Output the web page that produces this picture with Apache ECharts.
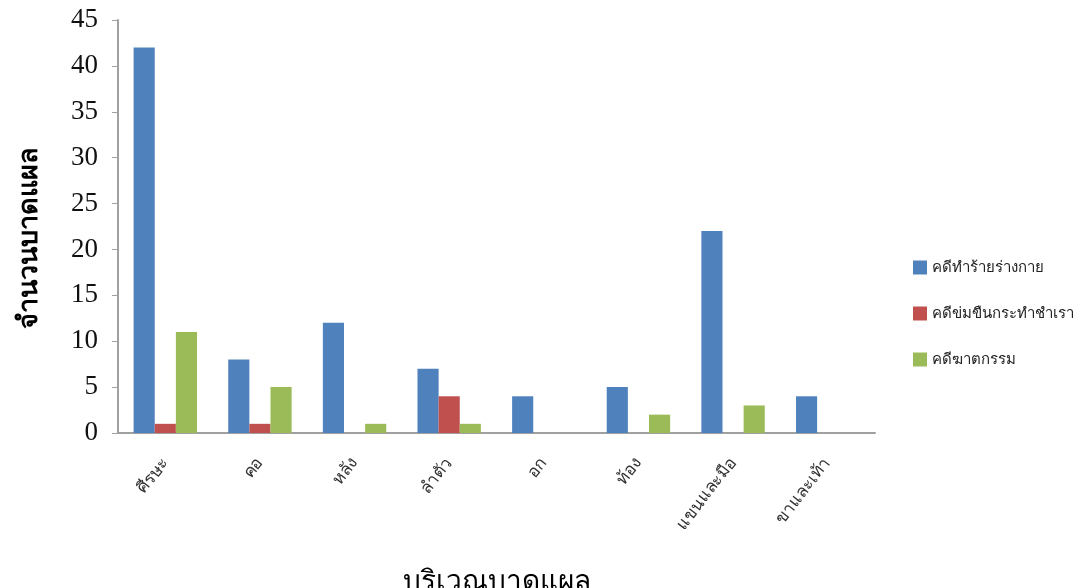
<!DOCTYPE html>
<html>
<head>
<meta charset="utf-8">
<script src="https://cdn.jsdelivr.net/npm/echarts@6/dist/echarts.min.js"></script>
<style>
  html, body { margin: 0; padding: 0; background: #fff; }
  #chart { width: 1085px; height: 588px; }
</style>
</head>
<body>
<div id="chart"></div>
<script>
  // บริเวณบาดแผล
  var categories = ['ศีรษะ', 'คอ', 'หลัง', 'ลำตัว', 'อก', 'ท้อง', 'แขนและมือ', 'ขาและเท้า'];
  var seriesNames = ['คดีทำร้ายร่างกาย', 'คดีข่มขืนกระทำชำเรา', 'คดีฆาตกรรม'];
  var assault = [42, 8, 12, 7, 4, 5, 22, 4];
  var rape = [1, 1, 0, 4, 0, 0, 0, 0];
  var murder = [11, 5, 1, 1, 0, 2, 3, 0];
  var colors = ['#4f81bd', '#c0504d', '#9bbb59'];

  var myChart = echarts.init(document.getElementById('chart'));
  myChart.setOption({
    animation: false,
    color: colors,
    grid: { left: 118, right: 210, top: 20, bottom: 155, containLabel: false, outerBoundsMode: 'none' },
    legend: {
      orient: 'vertical',
      left: 908,
      top: 255,
      itemWidth: 14,
      itemHeight: 14,
      itemGap: 31,
      icon: 'rect',
      textStyle: { fontSize: 15, color: '#222', fontFamily: 'sans-serif' },
      data: seriesNames
    },
    xAxis: {
      type: 'category',
      data: categories,
      name: 'บริเวณบาดแผล',
      nameLocation: 'middle',
      nameGap: 135,
      nameTextStyle: { fontSize: 28, color: '#000', fontFamily: 'sans-serif' },
      axisLine: { lineStyle: { color: '#a0a0a0', width: 2 } },
      axisTick: { show: false },
      axisLabel: { rotate: 52, margin: 27, fontSize: 17, color: '#333', fontFamily: 'sans-serif' }
    },
    yAxis: {
      type: 'value',
      min: 0,
      max: 45,
      interval: 5,
      name: 'จำนวนบาดแผล',
      nameLocation: 'middle',
      nameRotate: 90,
      nameGap: 75,
      nameTextStyle: { fontSize: 27, fontWeight: 'bold', color: '#000', fontFamily: 'sans-serif', padding: [0, 22, 0, 0] },
      axisLine: { show: true, lineStyle: { color: '#a0a0a0', width: 2 } },
      axisTick: { show: true, inside: false, length: 6, lineStyle: { color: '#a0a0a0' } },
      splitLine: { show: false },
      axisLabel: { margin: 20, fontSize: 27, color: '#111', fontFamily: 'Liberation Serif, serif' }
    },
    series: [
      { name: seriesNames[0], type: 'bar', data: assault, barGap: '0%', barCategoryGap: '33%' },
      { name: seriesNames[1], type: 'bar', data: rape },
      { name: seriesNames[2], type: 'bar', data: murder }
    ]
  });
</script>
</body>
</html>
